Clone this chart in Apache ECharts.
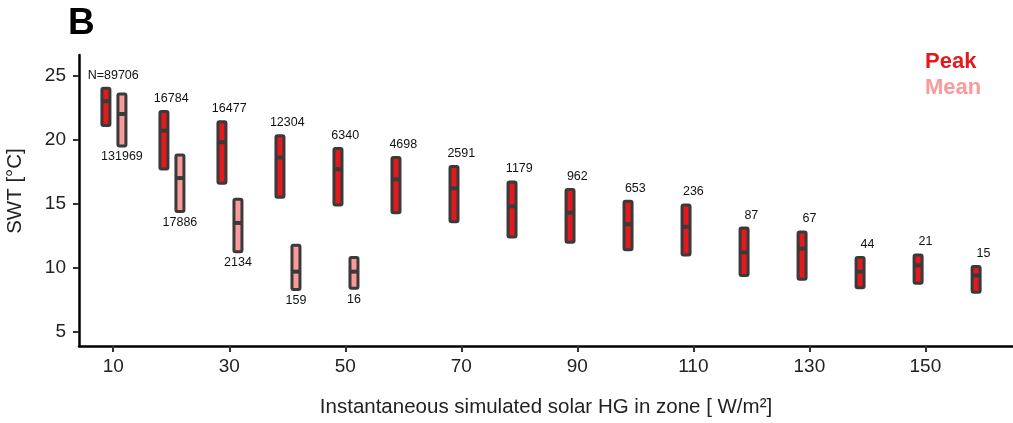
<!DOCTYPE html>
<html lang="en">
<head>
    <meta charset="utf-8">
    <title>SWT vs solar HG</title>
    <style>
        html, body { margin: 0; padding: 0; background: #fff; }
    </style>
</head>
<body>
    <div id="main" style="width:1013px;height:423px;"></div>
    <script src="https://cdn.jsdelivr.net/npm/echarts@6/dist/echarts.min.js"></script>
    <script type="text/javascript">
        // solar HG bins (W/m2)
        var cats = [10, 20, 30, 40, 50, 60, 70, 80, 90, 100, 110, 120, 130, 140, 150, 160];
        // peak SWT: low / median / high
        var peakLow  = [21.1, 17.7, 16.6, 15.5, 14.9, 14.3, 13.6, 12.4, 12.0, 11.4, 11.0, 9.4, 9.1, 8.45, 8.8, 8.1];
        var peakMed  = [23.0, 20.7, 19.8, 18.6, 17.7, 16.9, 16.2, 14.8, 14.3, 13.4, 13.2, 11.2, 11.5, 9.7, 10.2, 9.4];
        var peakHigh = [24.0, 22.2, 21.4, 20.3, 19.3, 18.6, 17.9, 16.7, 16.1, 15.2, 14.9, 13.1, 12.8, 10.8, 11.0, 10.1];
        var peakN    = [89706, 16784, 16477, 12304, 6340, 4698, 2591, 1179, 962, 653, 236, 87, 67, 44, 21, 15];
        // mean SWT: low / median / high
        var meanCats = [10, 20, 30, 40, 50];
        var meanLow  = [19.5, 14.4, 11.25, 8.3, 8.4];
        var meanMed  = [22.0, 17.0, 13.5, 9.7, 9.7];
        var meanHigh = [23.55, 18.8, 15.35, 11.75, 10.8];
        var meanN    = [131969, 17886, 2134, 159, 16];
        // tick labels
        var xTicks = [10, 30, 50, 70, 90, 110, 130, 150];
        var yTicks = [5, 10, 15, 20, 25];

        var peakColor = '#e3191c';
        var meanColor = '#fb9a9a';
        var edgeColor = '#3a3a3a';
        var fontName = '"Liberation Sans", Arial, sans-serif';

        var myChart = echarts.init(document.getElementById('main'));

        function makeData(xs, lo, md, hi, n) {
            return xs.map(function (x, i) { return [x, lo[i], md[i], hi[i], n[i]]; });
        }

        // draw one box: range rect + median bar + count label
        function boxRenderer(offset, fill, labelBelow) {
            return function (params, api) {
                var x = api.value(0);
                var pTop = api.coord([x, api.value(3)]);
                var pBot = api.coord([x, api.value(1)]);
                var pMed = api.coord([x, api.value(2)]);
                var cx = pTop[0] + offset;
                var w = 8;
                var txt = String(api.value(4));
                if (!labelBelow && params.dataIndex === 0) txt = 'N=' + txt;
                return {
                    type: 'group',
                    children: [{
                        type: 'rect',
                        shape: { x: cx - w / 2, y: pTop[1], width: w, height: pBot[1] - pTop[1], r: 1.5 },
                        style: { fill: fill, stroke: edgeColor, lineWidth: 3 }
                    }, {
                        type: 'line',
                        shape: { x1: cx - w / 2, y1: pMed[1], x2: cx + w / 2, y2: pMed[1] },
                        style: { stroke: edgeColor, lineWidth: 4 }
                    }, {
                        type: 'text',
                        x: labelBelow ? cx : pTop[0],
                        y: labelBelow ? pBot[1] + 11 : pTop[1] - 13,
                        style: {
                            text: txt,
                            fill: '#111',
                            font: '12.5px ' + fontName,
                            align: 'center',
                            verticalAlign: 'middle'
                        }
                    }]
                };
            };
        }

        var option = {
            animation: false,
            backgroundColor: '#fff',
            grid: { left: 79, right: 0, top: 55, bottom: 76 },
            graphic: [
                { type: 'text', left: 68, top: 5, style: { text: 'B', fill: '#000', font: 'bold 37px ' + fontName } },
                { type: 'text', left: 925, top: 51, style: { text: 'Peak', fill: peakColor, font: 'bold 22px ' + fontName } },
                { type: 'text', left: 925, top: 77, style: { text: 'Mean', fill: meanColor, font: 'bold 22px ' + fontName } },
                {
                    type: 'text', x: 15, y: 191, rotation: Math.PI / 2,
                    style: { text: 'SWT [°C]', fill: '#222', font: '20.5px ' + fontName, align: 'center', verticalAlign: 'middle' }
                }
            ],
            xAxis: {
                type: 'value',
                min: 4.1,
                max: 165.1,
                name: 'Instantaneous simulated solar HG in zone [ W/m²]',
                nameLocation: 'middle',
                nameGap: 51,
                nameTextStyle: { color: '#222', fontSize: 20.5, fontFamily: fontName },
                splitLine: { show: false },
                axisLine: { show: true, onZero: false, lineStyle: { color: '#000', width: 2.5 } },
                axisTick: { show: true, length: 6, customValues: xTicks, lineStyle: { color: '#333', width: 2 } },
                axisLabel: { customValues: xTicks, color: '#222', fontSize: 19, fontFamily: fontName, margin: 11 }
            },
            yAxis: {
                type: 'value',
                min: 3.9,
                max: 26.6,
                splitLine: { show: false },
                axisLine: { show: true, onZero: false, lineStyle: { color: '#000', width: 2.5 } },
                axisTick: { show: true, length: 6, customValues: yTicks, lineStyle: { color: '#333', width: 2 } },
                axisLabel: { customValues: yTicks, color: '#222', fontSize: 19, fontFamily: fontName, margin: 13 }
            },
            series: [{
                name: 'Peak',
                type: 'custom',
                renderItem: boxRenderer(-7.3, peakColor, false),
                encode: { x: 0, y: [1, 2, 3] },
                data: makeData(cats, peakLow, peakMed, peakHigh, peakN),
                clip: false
            }, {
                name: 'Mean',
                type: 'custom',
                renderItem: boxRenderer(8.7, meanColor, true),
                encode: { x: 0, y: [1, 2, 3] },
                data: makeData(meanCats, meanLow, meanMed, meanHigh, meanN),
                clip: false
            }]
        };
        myChart.setOption(option);
    </script>
</body>
</html>
